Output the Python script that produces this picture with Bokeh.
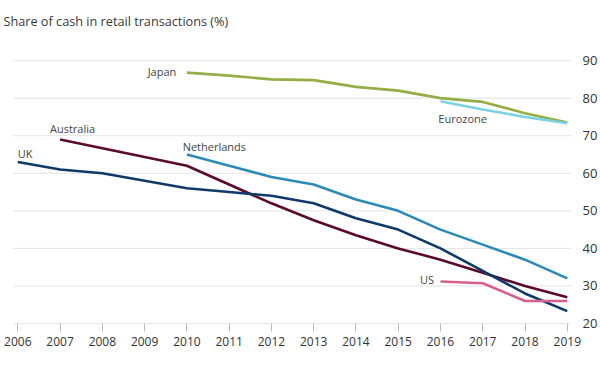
from bokeh.plotting import figure
from bokeh.models import Range1d, FixedTicker, LinearAxis, Label
from bokeh.embed import file_html
from bokeh.resources import INLINE

years_uk = [2006, 2007, 2008, 2009, 2010, 2011, 2012, 2013, 2014, 2015, 2016, 2017, 2018, 2019]
uk = [63, 61, 60, 58, 56, 55, 54, 52, 48, 45, 40, 34, 28, 23.3]

years_au = [2007, 2010, 2011, 2012, 2013, 2014, 2015, 2016, 2017, 2018, 2019]
australia = [69, 62, 57, 52, 47.5, 43.5, 40, 37, 33.5, 30, 27]

years_nl = [2010, 2011, 2012, 2013, 2014, 2015, 2016, 2017, 2018, 2019]
netherlands = [65, 62, 59, 57, 53, 50, 45, 41, 37, 32]

years_jp = [2010, 2011, 2012, 2013, 2014, 2015, 2016, 2017, 2018, 2019]
japan = [86.8, 86, 85, 84.8, 83, 82, 80, 79, 76, 73.5]

years_ez = [2016, 2017, 2018, 2019]
eurozone = [79.2, 77, 75, 73.3]

years_us = [2016, 2017, 2018, 2019]
us = [31.2, 30.7, 26, 26]

year_ticks = list(range(2006, 2020))
value_ticks = [20, 30, 40, 50, 60, 70, 80, 90]

FONT = "Open Sans"
GREY = "#333333"

p = figure(width=600, height=368, output_backend="svg", toolbar_location=None,
           x_range=Range1d(2005.59, 2019.1), y_range=Range1d(20, 106),
           min_border_left=0, min_border_top=0, min_border_bottom=45, min_border_right=23,
           background_fill_color="white", border_fill_color="white", outline_line_color=None,
           y_axis_location=None)

p.xaxis.ticker = FixedTicker(ticks=year_ticks)
p.xaxis.axis_line_color = None
p.xaxis.major_tick_line_color = "#bdbdbd"
p.xaxis.major_tick_out = 8
p.xaxis.major_tick_in = 0
p.xaxis.minor_tick_line_color = None
p.xaxis.major_label_text_font = FONT
p.xaxis.major_label_text_font_size = "12px"
p.xaxis.major_label_text_color = GREY
p.xaxis.major_label_standoff = 5

yax = LinearAxis(ticker=FixedTicker(ticks=value_ticks))
yax.axis_line_color = None
yax.major_tick_line_color = None
yax.minor_tick_line_color = None
yax.major_label_text_font = FONT
yax.major_label_text_font_size = "13px"
yax.major_label_text_color = GREY
yax.major_label_standoff = 5
p.add_layout(yax, "right")

p.xgrid.grid_line_color = None
p.ygrid.grid_line_color = None

# horizontal gridlines spanning just the plotted years (with small overhang)
g_x0 = [year_ticks[0] - 0.105] * len(value_ticks)
g_x1 = [year_ticks[-1] + 0.1] * len(value_ticks)
p.segment(x0=g_x0, y0=value_ticks, x1=g_x1, y1=value_ticks,
          line_color=["#cfcfcf"] + ["#e3e3e3"] * (len(value_ticks) - 1), line_width=1)

p.line(years_jp, japan, line_color="#94ad45", line_width=2.6)
p.line(years_ez, eurozone, line_color="#7ad3e3", line_width=2.6)
p.line(years_au, australia, line_color="#5b0a2b", line_width=2.6)
p.line(years_nl, netherlands, line_color="#2b8ab8", line_width=2.6)
p.line(years_uk, uk, line_color="#0e3a6a", line_width=2.6)
p.line(years_us, us, line_color="#d8608f", line_width=2.6)

labels = [
    ("Japan", 2009.75, 87.0, "right"),
    ("Australia", 2006.76, 71.9, "left"),
    ("UK", 2006.0, 65.3, "left"),
    ("Netherlands", 2009.9, 67.2, "left"),
    ("Eurozone", 2015.95, 74.5, "left"),
    ("US", 2015.85, 31.6, "right"),
]
for t, x, y, al in labels:
    p.add_layout(Label(x=x, y=y, text=t, text_align=al, text_baseline="middle",
                       text_font=FONT, text_font_size="11px", text_color="#444444"))

p.add_layout(Label(x=2005.66, y=100.66, text="Share of cash in retail transactions (%)",
                   text_align="left", text_baseline="middle",
                   text_font=FONT, text_font_size="12.7px", text_color="#3a3a3a"))

open("out.html", "w").write(file_html(p, INLINE))
